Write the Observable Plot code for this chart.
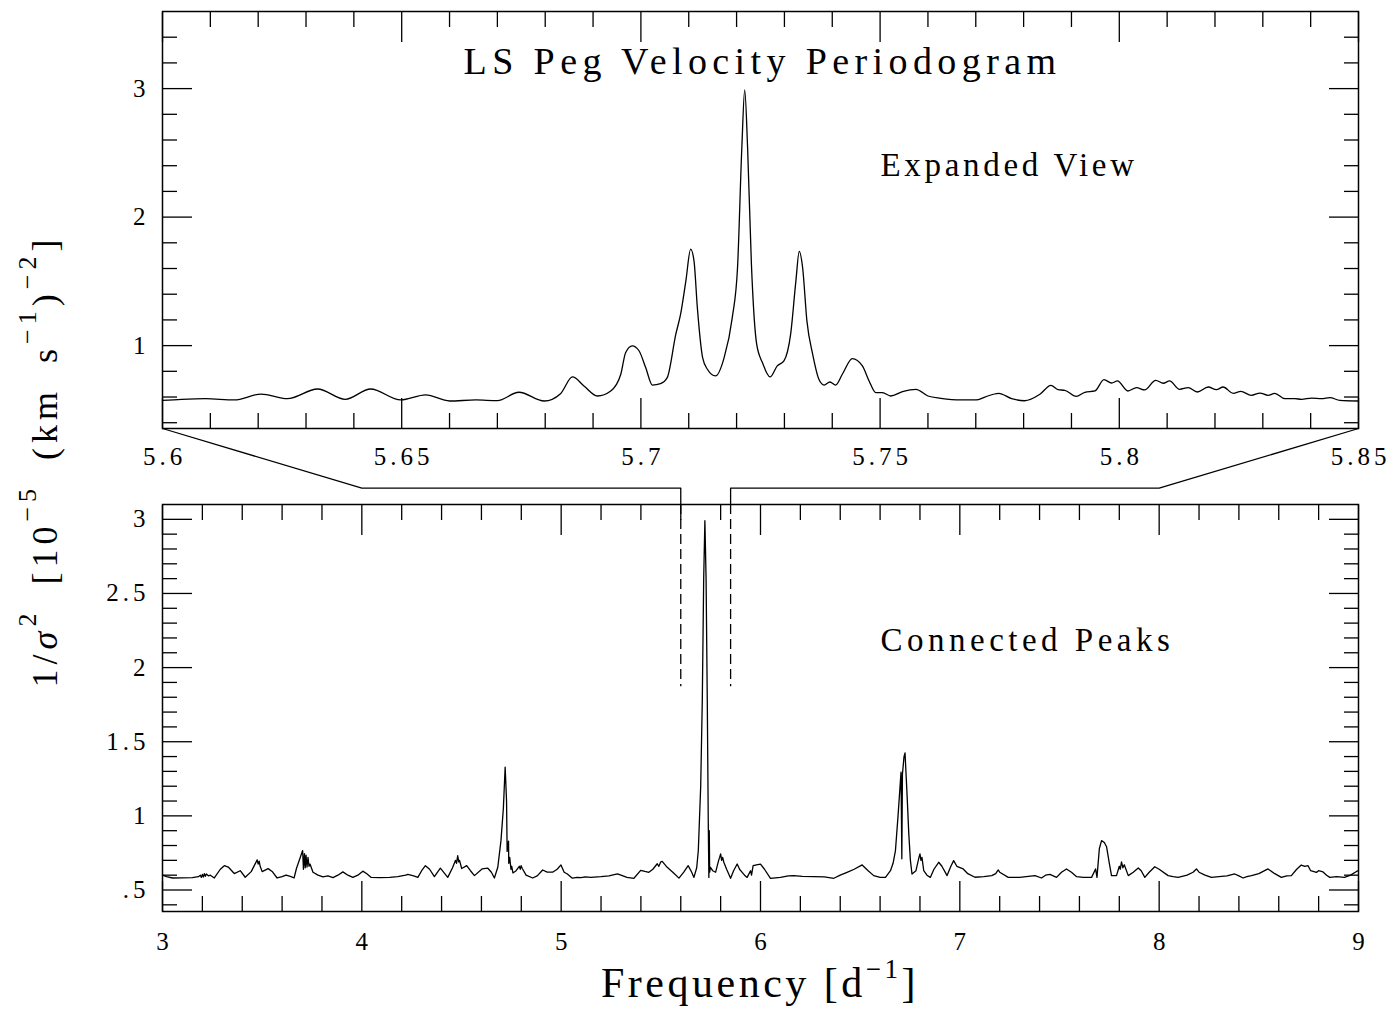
<!DOCTYPE html>
<html><head><meta charset="utf-8">
<script src="https://cdn.jsdelivr.net/npm/d3@7"></script>
<script src="https://cdn.jsdelivr.net/npm/@observablehq/plot@0.6"></script>
<style>
html,body{margin:0;padding:0;background:#fff;overflow:hidden;}
#wrap{position:relative;width:1394px;height:1009px;background:#fff;}
#wrap svg{position:absolute;left:0;top:0;max-width:none;}
#wrap svg text{letter-spacing:4px;}
</style></head><body><div id="wrap"></div>
<script>
// ---------- DATA ----------
// Expanded view (top panel)
const expandedFreq = [5.600,5.604,5.609,5.615,5.6206,5.6261,5.6324,5.6382,5.6435,5.6498,5.655,5.660,5.6655,5.670,5.6745,5.6798,
  5.6832,5.6857,5.6881,5.6909,5.6937,5.6958,5.6968,5.6982,5.6996,5.7010,5.7024,5.7041,5.7055,5.7073,5.7083,5.7094,5.7104,5.7111,
  5.7118,5.7129,5.7139,5.7156,5.7174,5.7191,5.7202,5.7211,5.7217,5.7223,5.7231,5.7242,5.7254,5.7270,5.7285,5.7299,5.7313,5.7324,
  5.7331,5.7338,5.7347,5.7359,5.7372,5.7383,5.7395,5.7407,5.7421,5.7442,5.7463,5.7477,5.7491,5.7505,5.7522,5.7547,5.7575,5.7600,
  5.7627,5.7669,5.7701,5.7719,5.7748,5.7775,5.7802,5.7834,5.7857,5.7872,5.7886,5.7910,5.7928,5.7949,5.7968,5.7984,5.7996,5.8018,
  5.8036,5.8053,5.8076,5.8092,5.8105,5.8126,5.8144,5.8163,5.8186,5.8203,5.8217,5.8238,5.8254,5.8276,5.8294,5.8311,5.8325,5.8346,
  5.8367,5.8381,5.8402,5.8423,5.8440,5.8461,5.8500];
const expandedPower = [0.574,0.582,0.587,0.577,0.623,0.587,0.6625,0.582,0.6625,0.577,0.616,0.569,0.577,0.572,0.637,0.569,
  0.626,0.756,0.686,0.608,0.647,0.777,0.945,0.998,0.96,0.829,0.693,0.704,0.751,1.089,1.245,1.504,1.751,1.66,
  1.296,0.907,0.816,0.764,0.907,1.218,1.608,2.543,2.99,2.543,1.634,1.011,0.868,0.756,0.842,0.881,1.089,1.504,
  1.733,1.608,1.193,0.933,0.738,0.693,0.717,0.693,0.777,0.899,0.842,0.725,0.634,0.634,0.608,0.642,0.660,0.608,
  0.590,0.577,0.577,0.600,0.629,0.587,0.571,0.621,0.691,0.657,0.652,0.605,0.637,0.647,0.735,0.709,0.725,0.647,
  0.673,0.655,0.730,0.707,0.725,0.660,0.673,0.639,0.678,0.657,0.678,0.629,0.644,0.613,0.631,0.613,0.629,0.587,
  0.587,0.582,0.592,0.587,0.595,0.574,0.569];

// Connected peaks (bottom panel)
const fullFreq = [3.00,3.02,3.05,3.10,3.15,3.18,3.19,3.195,3.20,3.205,3.21,3.215,3.22,3.23,3.24,3.26,3.29,3.31,3.33,3.36,3.39,3.415,3.445,
  3.47,3.475,3.48,3.485,3.49,3.50,3.53,3.55,3.575,3.60,3.62,3.645,3.66,3.672,3.703,3.707,3.712,3.716,3.72,3.725,3.73,3.735,3.74,
  3.755,3.78,3.805,3.83,3.855,3.88,3.905,3.93,3.955,3.98,4.005,4.025,4.047,4.09,4.14,4.18,4.20,4.22,4.231,4.26,4.281,4.30,4.319,
  4.34,4.364,4.394,4.431,4.455,4.47,4.475,4.481,4.486,4.49,4.501,4.526,4.545,4.565,4.603,4.632,4.65,4.665,4.682,4.698,4.71,4.719,
  4.726,4.729,4.736,4.737,4.742,4.748,4.752,4.758,4.774,4.79,4.795,4.799,4.805,4.824,4.857,4.88,4.907,4.93,4.957,4.98,4.999,
  5.015,5.031,5.056,5.08,5.10,5.12,5.15,5.165,5.20,5.24,5.282,5.30,5.33,5.365,5.399,5.42,5.44,5.46,5.482,5.49,5.50,5.507,5.532,
  5.56,5.591,5.615,5.637,5.655,5.666,5.68,5.688,5.70,5.708,5.715,5.721,5.727,5.733,5.738,5.741,5.743,5.745,5.749,5.76,5.775,5.79,
  5.795,5.80,5.805,5.81,5.816,5.83,5.85,5.865,5.883,5.895,5.908,5.92,5.933,5.95,5.955,5.963,5.98,6.0,6.02,6.05,6.10,6.12,6.14,
  6.167,6.21,6.267,6.32,6.368,6.40,6.434,6.47,6.51,6.54,6.568,6.60,6.627,6.652,6.665,6.677,6.69,6.705,6.709,6.712,6.72,6.725,
  6.735,6.744,6.752,6.76,6.78,6.795,6.80,6.805,6.81,6.819,6.835,6.852,6.87,6.894,6.91,6.936,6.955,6.969,6.985,7.017,7.04,7.076,
  7.12,7.16,7.18,7.19,7.193,7.20,7.243,7.30,7.377,7.41,7.43,7.452,7.485,7.51,7.535,7.56,7.586,7.62,7.661,7.681,7.688,7.70,7.711,
  7.725,7.736,7.75,7.761,7.786,7.80,7.805,7.811,7.818,7.825,7.845,7.87,7.895,7.91,7.928,7.95,7.978,8.0,8.045,8.07,8.095,8.14,
  8.17,8.187,8.20,8.23,8.262,8.30,8.34,8.379,8.40,8.421,8.44,8.463,8.50,8.546,8.58,8.613,8.64,8.663,8.69,8.713,8.73,8.747,8.76,
  8.789,8.80,8.822,8.84,8.856,8.89,8.93,8.96,8.99,9.0];
const fullPower = [0.600,0.590,0.581,0.582,0.583,0.590,0.600,0.585,0.605,0.588,0.610,0.592,0.608,0.596,0.600,0.581,0.640,0.664,0.655,0.611,0.630,0.586,0.624,
  0.690,0.703,0.675,0.695,0.660,0.624,0.644,0.625,0.581,0.590,0.601,0.590,0.581,0.645,0.766,0.640,0.745,0.650,0.735,0.655,0.720,0.660,0.675,
  0.620,0.600,0.588,0.595,0.584,0.600,0.622,0.600,0.585,0.600,0.627,0.610,0.585,0.583,0.585,0.590,0.595,0.600,0.606,0.595,0.585,0.630,0.664,
  0.640,0.590,0.647,0.585,0.650,0.700,0.680,0.732,0.690,0.700,0.645,0.664,0.630,0.597,0.642,0.647,0.620,0.581,0.653,0.833,1.050,1.329,
  1.100,0.760,0.830,0.680,0.720,0.640,0.660,0.615,0.630,0.660,0.640,0.664,0.645,0.600,0.581,0.595,0.635,0.620,0.620,0.640,0.669,
  0.620,0.608,0.580,0.585,0.583,0.588,0.585,0.587,0.590,0.595,0.608,0.600,0.585,0.579,0.632,0.625,0.619,0.640,0.677,0.660,0.690,0.693,0.653,
  0.620,0.580,0.620,0.664,0.620,0.585,0.650,0.766,1.200,1.779,2.600,2.991,2.600,1.779,0.950,0.585,0.900,0.620,0.653,0.630,0.620,0.700,
  0.720,0.743,0.700,0.720,0.687,0.640,0.579,0.630,0.675,0.640,0.619,0.600,0.585,0.630,0.600,0.664,0.670,0.675,0.640,0.579,0.585,0.590,0.595,
  0.597,0.592,0.590,0.588,0.579,0.600,0.619,0.640,0.669,0.630,0.597,0.585,0.585,0.630,0.680,0.766,1.000,1.295,0.710,1.280,1.400,1.425,
  1.150,0.878,0.700,0.608,0.630,0.720,0.743,0.700,0.720,0.630,0.600,0.585,0.640,0.687,0.660,0.597,0.660,0.698,0.660,0.642,0.610,0.586,
  0.590,0.597,0.610,0.630,0.635,0.620,0.585,0.585,0.597,0.581,0.600,0.605,0.585,0.620,0.642,0.620,0.590,0.585,0.585,0.642,0.585,0.780,0.833,
  0.820,0.792,0.680,0.597,0.597,0.660,0.640,0.689,0.650,0.670,0.597,0.620,0.649,0.630,0.585,0.620,0.657,0.640,0.597,0.590,0.585,0.600,
  0.620,0.642,0.620,0.600,0.585,0.590,0.595,0.608,0.595,0.581,0.590,0.597,0.610,0.642,0.610,0.585,0.595,0.597,0.640,0.668,0.660,0.664,0.630,
  0.619,0.630,0.622,0.600,0.585,0.590,0.585,0.600,0.625,0.630];

// Tick values
const topXMajor = [5.6,5.65,5.7,5.75,5.8,5.85];
const topXMinor = [5.61,5.62,5.63,5.64,5.66,5.67,5.68,5.69,5.71,5.72,5.73,5.74,5.76,5.77,5.78,5.79,5.81,5.82,5.83,5.84];
const topYMajor = [1,2,3];
const topYMinor = [0.4,0.6,0.8,1.2,1.4,1.6,1.8,2.2,2.4,2.6,2.8,3.2,3.4];
const botXMajor = [3,4,5,6,7,8,9];
const botXMinor = [3.2,3.4,3.6,3.8,4.2,4.4,4.6,4.8,5.2,5.4,5.6,5.8,6.2,6.4,6.6,6.8,7.2,7.4,7.6,7.8,8.2,8.4,8.6,8.8];
const botYMajor = [0.5,1,1.5,2,2.5,3];
const botYMinor = [0.4,0.6,0.7,0.8,0.9,1.1,1.2,1.3,1.4,1.6,1.7,1.8,1.9,2.1,2.2,2.3,2.4,2.6,2.7,2.8,2.9];
const botYLabels = [".5","1","1.5","2","2.5","3"];

// Zoom connectors (bottom-panel coordinates)
const zoomRange = [5.6, 5.85];
const connectorKnees = [4, 8];
const connectorLevel = 3.21;
const dashedEnd = 1.87;

// Texts
const titleText = "LS Peg Velocity Periodogram";
const topNote = "Expanded View";
const bottomNote = "Connected Peaks";

// ---------- LAYOUT ----------
const W = 1394;
const T = {top: 11, bottom: 428, height: 475, xDomain: [5.6, 5.85], yDomain: [0.355, 3.6]};
const B = {top: 504, bottom: 911, height: 1009, xDomain: [3, 9], yDomain: [0.355, 3.1]};
const mL = 162, mR = 36;
const FONT = "Liberation Serif";
const plain = d => String(d);

function frameTicks(xMaj, xMin, yMaj, yMin) {
  const c = {stroke: "black", strokeWidth: 1.3, label: null, tickFormat: () => ""};
  return [
    Plot.axisX(xMaj, {...c, anchor: "bottom", tickSize: -30}),
    Plot.axisX(xMaj, {...c, anchor: "top", tickSize: -30}),
    Plot.axisX(xMin, {...c, anchor: "bottom", tickSize: -15}),
    Plot.axisX(xMin, {...c, anchor: "top", tickSize: -15}),
    Plot.axisY(yMaj, {...c, anchor: "left", tickSize: -30}),
    Plot.axisY(yMaj, {...c, anchor: "right", tickSize: -30}),
    Plot.axisY(yMin, {...c, anchor: "left", tickSize: -15}),
    Plot.axisY(yMin, {...c, anchor: "right", tickSize: -15})
  ];
}

const expanded = expandedFreq.map((f, i) => ({f, p: expandedPower[i]}));
const full = fullFreq.map((f, i) => ({f, p: fullPower[i]}));

const topPlot = Plot.plot({
  width: W, height: T.height,
  marginLeft: mL, marginRight: mR, marginTop: T.top, marginBottom: T.height - T.bottom,
  style: {fontFamily: FONT, fontSize: "25px", background: "transparent", color: "black"},
  x: {domain: T.xDomain},
  y: {domain: T.yDomain},
  marks: [
    ...frameTicks(topXMajor, topXMinor, topYMajor, topYMinor),
    Plot.axisX(topXMajor, {anchor: "bottom", tickSize: 0, tickPadding: 19, label: null, fontSize: 25, dx: 2, tickFormat: plain}),
    Plot.axisY(topYMajor, {anchor: "left", tickSize: 0, tickPadding: 13, label: null, fontSize: 25, tickFormat: plain}),
    Plot.frame({stroke: "black", strokeWidth: 1.5}),
    Plot.line(expanded, {x: "f", y: "p", curve: "monotone-x", stroke: "black", strokeWidth: 1.3}),
    Plot.text([titleText], {frameAnchor: "top", dy: 62, dx: 2, lineAnchor: "bottom", fontSize: 38, text: d => d}),
    Plot.text([topNote], {frameAnchor: "top-left", dx: 718, dy: 164, textAnchor: "start", lineAnchor: "bottom", fontSize: 33, text: d => d})
  ]
});

// value in bottom-panel y units of the top panel's lower edge
const bSpan = B.yDomain[1] - B.yDomain[0];
const topEdgeInBottom = B.yDomain[1] + (B.top - T.bottom) / (B.bottom - B.top) * bSpan;

const leftConnector = [
  {x: B.xDomain[0], y: topEdgeInBottom}, {x: connectorKnees[0], y: connectorLevel},
  {x: zoomRange[0], y: connectorLevel}, {x: zoomRange[0], y: B.yDomain[1]}
];
const rightConnector = [
  {x: B.xDomain[1], y: topEdgeInBottom}, {x: connectorKnees[1], y: connectorLevel},
  {x: zoomRange[1], y: connectorLevel}, {x: zoomRange[1], y: B.yDomain[1]}
];

const bottomPlot = Plot.plot({
  width: W, height: B.height,
  marginLeft: mL, marginRight: mR, marginTop: B.top, marginBottom: B.height - B.bottom,
  style: {fontFamily: FONT, fontSize: "25px", background: "transparent", color: "black"},
  x: {domain: B.xDomain},
  y: {domain: B.yDomain},
  marks: [
    ...frameTicks(botXMajor, botXMinor, botYMajor, botYMinor),
    Plot.axisX(botXMajor, {anchor: "bottom", tickSize: 0, tickPadding: 21, label: null, fontSize: 25, dx: 2, tickFormat: plain}),
    Plot.axisY(botYMajor, {anchor: "left", tickSize: 0, tickPadding: 13, label: null, fontSize: 25,
      tickFormat: d => botYLabels[botYMajor.indexOf(d)]}),
    Plot.frame({stroke: "black", strokeWidth: 1.5}),
    Plot.line(leftConnector, {x: "x", y: "y", stroke: "black", strokeWidth: 1.3}),
    Plot.line(rightConnector, {x: "x", y: "y", stroke: "black", strokeWidth: 1.3}),
    Plot.ruleX(zoomRange, {y1: B.yDomain[1], y2: dashedEnd, stroke: "black", strokeWidth: 1.3, strokeDasharray: "10,5"}),
    Plot.line(full, {x: "f", y: "p", stroke: "black", strokeWidth: 1.3}),
    Plot.text([bottomNote], {frameAnchor: "top-left", dx: 718, dy: 146, textAnchor: "start", lineAnchor: "bottom", fontSize: 33, text: d => d})
  ]
});

const wrap = document.getElementById("wrap");
wrap.appendChild(topPlot);
wrap.appendChild(bottomPlot);

// per-text letter spacing
function spacing(svg, txt, ls) {
  d3.select(svg).selectAll("text").filter(function() { return this.textContent === txt; }).style("letter-spacing", ls);
}
spacing(topPlot, titleText, "5.4px");
spacing(topPlot, topNote, "3.7px");
spacing(bottomPlot, bottomNote, "4.5px");

// Axis titles with superscripts
const svgB = d3.select(bottomPlot);
function richText(g, parts, supSize, raise) {
  let raised = false;
  for (const p of parts) {
    const t = g.append("tspan").text(p.t);
    if (p.sup && !raised) { t.attr("dy", -raise).style("font-size", supSize + "px"); raised = true; }
    else if (p.sup) { t.style("font-size", supSize + "px"); }
    else if (raised) { t.attr("dy", raise); raised = false; }
    if (p.it) t.style("font-style", "italic");
  }
}
const yTitle = svgB.append("text")
  .attr("transform", "translate(57,461) rotate(-90)")
  .attr("text-anchor", "middle")
  .style("font-family", FONT).style("font-size", "36px").style("letter-spacing", "5px").style("word-spacing", "10px")
  .attr("fill", "black");
richText(yTitle, [{t: "1/"}, {t: "σ", it: true}, {t: "2", sup: true}, {t: " [10"}, {t: "−5", sup: true},
  {t: " (km s"}, {t: "−1", sup: true}, {t: ")"}, {t: "−2", sup: true}, {t: "]"}], 26, 21);

const xTitle = svgB.append("text")
  .attr("x", 760).attr("y", 997)
  .attr("text-anchor", "middle")
  .style("font-family", FONT).style("font-size", "42px").style("letter-spacing", "3.5px")
  .attr("fill", "black");
richText(xTitle, [{t: "Frequency [d"}, {t: "−1", sup: true}, {t: "]"}], 27, 19);
</script></body></html>
